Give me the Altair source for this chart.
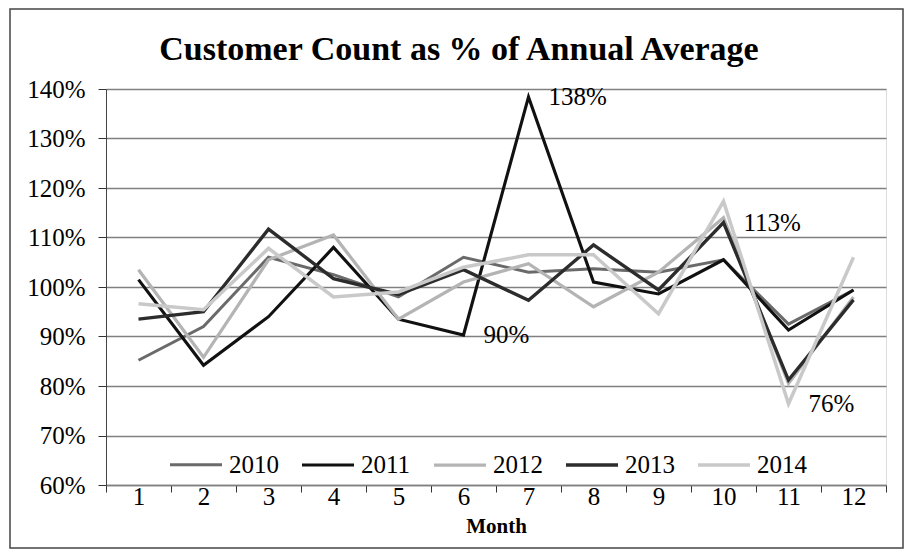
import altair as alt
import pandas as pd

# ---- data ----
months = list(range(1, 13))
years = ["2010", "2011", "2012", "2013", "2014"]
y2010 = [85.2, 92.0, 106.0, 102.5, 98.0, 106.0, 103.0, 103.7, 103.0, 105.5, 92.5, 99.4]
y2011 = [101.5, 84.2, 94.0, 108.0, 93.5, 90.3, 138.4, 101.0, 98.6, 105.5, 91.3, 99.4]
y2012 = [103.5, 85.8, 105.5, 110.5, 93.5, 101.0, 104.7, 96.0, 103.0, 114.0, 80.5, 98.0]
y2013 = [93.5, 95.0, 111.7, 101.7, 98.5, 103.5, 97.3, 108.5, 99.4, 113.0, 81.2, 97.4]
y2014 = [96.6, 95.4, 107.8, 98.0, 99.0, 104.0, 106.5, 106.5, 94.6, 117.3, 76.4, 106.0]
y_ticks = [0.6, 0.7, 0.8, 0.9, 1.0, 1.1, 1.2, 1.3, 1.4]
# annotated points: (year, month)
ann_points = [("2011", 7), ("2013", 10), ("2011", 6), ("2014", 11)]
title_text = "Customer Count as % of Annual Average"

series = {"2010": y2010, "2011": y2011, "2012": y2012, "2013": y2013, "2014": y2014}
colors = ["#6a6a6a", "#111111", "#b4b4b4", "#2c2c2c", "#c9c9c9"]
widths = [3, 3.5, 3, 3.5, 3]

rows = []
for yr, vals in series.items():
    for m, v in zip(months, vals):
        rows.append({"Month": m, "Year": yr, "pct": v / 100.0})
df = pd.DataFrame(rows)

ann = pd.DataFrame(
    [{"Month": m, "pct": series[yr][m - 1] / 100.0,
      "label": f"{round(series[yr][m - 1])}%"} for yr, m in ann_points]
)

FONT = "Liberation Serif"

x_enc = alt.X(
    "Month:O",
    bandPosition=0.5,
    scale=alt.Scale(type="band", paddingInner=0, paddingOuter=0),
    axis=alt.Axis(
        tickBand="extent", labelAngle=0, labelFont=FONT, labelFontSize=25,
        labelColor="#000", labelBaseline="middle", tickSize=7, tickColor="#333",
        tickWidth=1, domainColor="#808080", domainWidth=1.5, labelPadding=4,
        grid=False, title="Month", titleFont=FONT, titleFontSize=21,
        titleFontWeight="bold", titleColor="#000", titlePadding=6,
    ),
)
y_enc = alt.Y(
    "pct:Q",
    scale=alt.Scale(domain=[0.6, 1.4], nice=False, zero=False),
    axis=alt.Axis(
        values=y_ticks, format=".0%", title=None, labelFont=FONT,
        labelFontSize=25, labelColor="#000", tickSize=8, tickColor="#333",
        labelPadding=13, domainColor="#444", domainWidth=1,
        gridColor="#808080", gridWidth=1.5,
    ),
)

lines = alt.Chart(df).mark_line(strokeJoin="miter").encode(
    x=x_enc,
    y=y_enc,
    color=alt.Color(
        "Year:N",
        scale=alt.Scale(domain=years, range=colors),
        legend=alt.Legend(
            orient="none", legendX=62, legendY=348, direction="horizontal",
            columns=5, title=None, symbolType="stroke", symbolSize=2704,
            symbolStrokeWidth=4, labelFont=FONT, labelFontSize=25,
            labelColor="#000", labelOffset=5, columnPadding=16,
        ),
    ),
    strokeWidth=alt.StrokeWidth(
        "Year:N", scale=alt.Scale(domain=years, range=widths), legend=None
    ),
)

labels = alt.Chart(ann).mark_text(
    align="left", baseline="middle", dx=20, font=FONT, fontSize=25, color="#000"
).encode(x=alt.X("Month:O", bandPosition=0.5), y="pct:Q", text="label:N")

one = pd.DataFrame({"t": [title_text]})

# outer chart border (decoration)
frame = alt.Chart(one).mark_rect(
    fill="white", fillOpacity=0, stroke="#444", strokeWidth=1.5
).encode(
    x=alt.value(-96), x2=alt.value(797), y=alt.value(-80), y2=alt.value(459)
)

title = alt.Chart(one).mark_text(
    font=FONT, fontSize=34, fontWeight="bold", color="#000",
    align="center", baseline="alphabetic",
).encode(x=alt.value(353), y=alt.value(-29), text="t:N")

chart = alt.layer(frame, lines, labels, title).properties(
    width=780,
    height=396,
    autosize="none",
    padding={"left": 98, "top": 81, "right": 18, "bottom": 65},
).configure_view(stroke=None).configure(background="white")

chart.save("out.html", embed_options={"renderer": "svg", "actions": False})
